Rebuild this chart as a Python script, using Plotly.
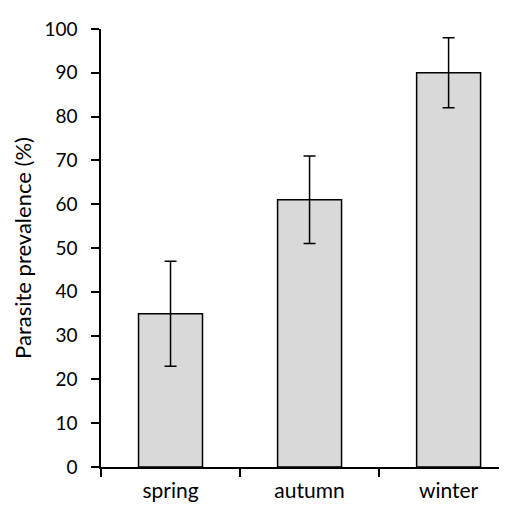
import plotly.graph_objects as go

seasons = ["spring", "autumn", "winter"]
prevalence = [35, 61, 90]
err_plus = [12, 10, 8]
err_minus = [12, 10, 8]
y_ticks = [0, 10, 20, 30, 40, 50, 60, 70, 80, 90, 100]

fig = go.Figure(go.Bar(
    x=seasons, y=prevalence,
    marker=dict(color="#d9d9d9", line=dict(color="#000000", width=1.5)),
    width=0.46,
    error_y=dict(type="data", array=err_plus, arrayminus=err_minus,
                 color="#000000", thickness=1.5, width=6, symmetric=False),
))

font_family = "Lato, 'Open Sans', sans-serif"
fig.update_layout(
    width=499, height=499,
    margin=dict(l=93, r=0, t=21, b=40, autoexpand=False),
    plot_bgcolor="white", paper_bgcolor="white",
    showlegend=False,
    font=dict(family=font_family, color="#000000", size=18),
    xaxis=dict(
        range=[-0.5, 2.42], automargin=False,
        showline=True, linecolor="#000000", linewidth=1.5,
        ticks="outside", tickson="boundaries", ticklen=8, tickwidth=1.5, tickcolor="#000000",
        tickfont=dict(size=21), ticklabelstandoff=4,
        showgrid=False, zeroline=False,
    ),
    yaxis=dict(
        range=[0, 100], automargin=False,
        tickvals=y_ticks,
        showline=True, linecolor="#000000", linewidth=1.5,
        ticks="outside", ticklen=8, tickwidth=1.5, tickcolor="#000000",
        tickfont=dict(size=19), ticklabelstandoff=10,
        showgrid=False, zeroline=False,
        title=dict(text="Parasite prevalence (%)", font=dict(size=22), standoff=7),
    ),
)

fig.write_html("out.html")
